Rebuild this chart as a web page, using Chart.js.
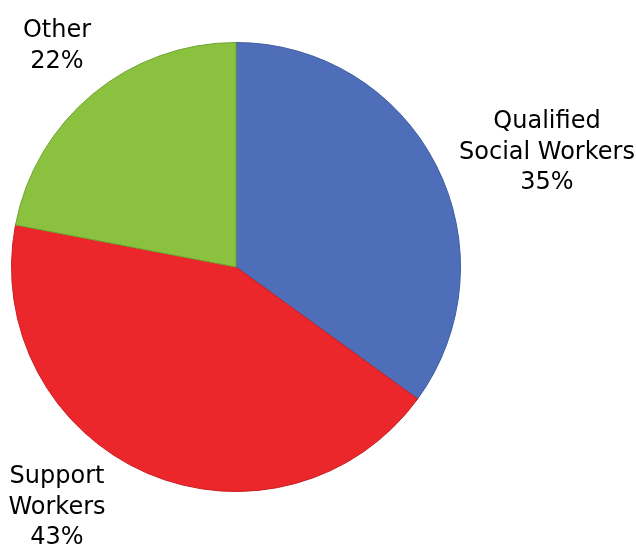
<!DOCTYPE html>
<html lang="en">
<head>
  <meta charset="UTF-8">
  <title>Workforce Pie</title>
  <script src="https://cdn.jsdelivr.net/npm/chart.js"></script>
  <style>
    body { margin: 0; background: #fff; }
    #wrap { width: 636px; height: 545px; }
  </style>
</head>
<body>
  <div id="wrap"><canvas id="pieChart" width="636" height="545"></canvas></div>
  <script>
const categories = ['Qualified Social Workers', 'Support Workers', 'Other'];
const shares = [35, 43, 22];
const labelLines = [
  ['Qualified', 'Social Workers', '35%'],
  ['Support', 'Workers', '43%'],
  ['Other', '22%']
];
const sliceColors = ['#4F6EB9', '#EC272C', '#8AC240'];

// outside labels, placed like the original slide (x = centre, y = first baseline)
const labelSpots = [
  { x: 547, y: 128 },
  { x: 57, y: 483 },
  { x: 57, y: 37 }
];

const outsideLabels = {
  id: 'outsideLabels',
  afterDraw(chart) {
    const ctx = chart.ctx;
    ctx.save();
    ctx.font = '24px "DejaVu Sans", sans-serif';
    ctx.fillStyle = '#000';
    ctx.textAlign = 'center';
    ctx.textBaseline = 'alphabetic';
    labelLines.forEach((lines, i) => {
      const spot = labelSpots[i];
      lines.forEach((t, j) => ctx.fillText(t, spot.x, spot.y + j * 30.5));
    });
    ctx.restore();
  }
};

new Chart(document.getElementById('pieChart').getContext('2d'), {
  type: 'pie',
  data: {
    labels: categories,
    datasets: [{
      data: shares,
      backgroundColor: sliceColors,
      borderColor: ['#3F5C9F', '#C81E22', '#6FA52E'],
      borderWidth: 1
    }]
  },
  options: {
    responsive: false,
    animation: false,
    layout: { padding: { left: 11, top: 42, right: 175, bottom: 53 } },
    plugins: {
      legend: { display: false },
      tooltip: { enabled: false }
    }
  },
  plugins: [outsideLabels]
});
  </script>
</body>
</html>
